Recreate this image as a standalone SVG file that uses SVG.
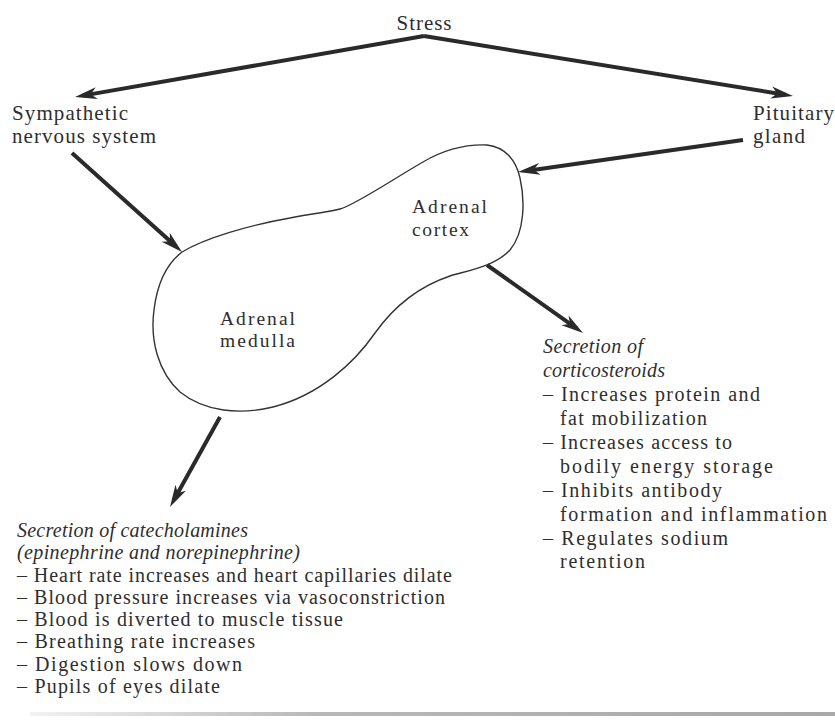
<svg xmlns="http://www.w3.org/2000/svg" width="835" height="722" viewBox="0 0 835 722">
<style>
text{font-family:"Liberation Serif","DejaVu Serif",serif;fill:#2e2e2e;font-size:20px}
.lab{font-size:21px}
.blob-lab{font-size:19.5px}
.it{font-style:italic}
.arrow{stroke:#2a2a2a;stroke-width:4;fill:none;marker-end:url(#ah)}
.blob{fill:#fff;stroke:#333;stroke-width:1.4}
</style>
<defs>
<marker id="ah" markerUnits="userSpaceOnUse" viewBox="0 0 22 14" markerWidth="22" markerHeight="14" refX="14" refY="7" orient="auto">
<path d="M0,1 L22,7 L0,13 L6,7 Z" fill="#2a2a2a"/>
</marker>
<linearGradient id="band" x1="0" y1="0" x2="1" y2="0">
<stop offset="0" stop-color="#f2f2f2"/>
<stop offset="0.35" stop-color="#b8b8b8"/>
<stop offset="1" stop-color="#a8a8a8"/>
</linearGradient>
</defs>
<rect width="835" height="722" fill="#fff"/>
<rect x="30" y="712" width="805" height="4" fill="url(#band)"/>

<g id="stress"><text x="424" y="30" text-anchor="middle" class="lab" textLength="55">Stress</text></g>
<g id="sympathetic">
<text x="12" y="120" class="lab" textLength="116">Sympathetic</text>
<text x="12" y="143" class="lab" textLength="144">nervous system</text>
</g>
<g id="pituitary">
<text x="753" y="120" class="lab" textLength="81">Pituitary</text>
<text x="753" y="143" class="lab" textLength="52">gland</text>
</g>
<g id="adrenal">
<path class="blob" d="M182,252 C205,238 250,225 290,218 C315,213 330,212 340,209 C355,205 395,178 423,162 C440,152 462,144 487,145 C505,147 516,160 520,178 C525,200 525,232 510,250 C495,266 470,270 450,276 C420,286 395,305 375,333 C355,362 320,395 273,407 C240,415 205,412 180,392 C158,372 150,340 154,310 C157,285 165,265 182,252 Z"/>
<text x="412" y="213" class="blob-lab" textLength="75">Adrenal</text>
<text x="412" y="236" class="blob-lab" textLength="57">cortex</text>
<text x="220" y="325" class="blob-lab" textLength="75">Adrenal</text>
<text x="220" y="347" class="blob-lab" textLength="75">medulla</text>
</g>
<g id="catecholamines">
<text x="17" y="537" class="it" textLength="231">Secretion of catecholamines</text>
<text x="17" y="559" class="it" textLength="283">(epinephrine and norepinephrine)</text>
<text x="17" y="582" textLength="435">– Heart rate increases and heart capillaries dilate</text>
<text x="17" y="604" textLength="428">– Blood pressure increases via vasoconstriction</text>
<text x="17" y="626" textLength="326">– Blood is diverted to muscle tissue</text>
<text x="17" y="648" textLength="238">– Breathing rate increases</text>
<text x="17" y="671" textLength="225">– Digestion slows down</text>
<text x="17" y="693" textLength="203">– Pupils of eyes dilate</text>
</g>
<g id="corticosteroids">
<text x="543" y="353" class="it" textLength="100">Secretion of</text>
<text x="543" y="377" class="it" textLength="122">corticosteroids</text>
<text x="543" y="401" textLength="217">– Increases protein and</text>
<text x="560" y="425" textLength="147">fat mobilization</text>
<text x="543" y="449" textLength="189">– Increases access to</text>
<text x="560" y="473" textLength="213">bodily energy storage</text>
<text x="543" y="497" textLength="179">– Inhibits antibody</text>
<text x="560" y="521" textLength="267">formation and inflammation</text>
<text x="543" y="545" textLength="185">– Regulates sodium</text>
<text x="560" y="568" textLength="85">retention</text>
</g>
<g id="connectors">
<path class="arrow" d="M424,36 L82.9,95.6"/>
<path class="arrow" d="M424,36 L785.1,94.7"/>
<path class="arrow" d="M72,153 L176.1,246.6"/>
<path class="arrow" d="M743,140 L525.9,170.9"/>
<path class="arrow" d="M487,265 L576.5,328.4"/>
<path class="arrow" d="M220,417 L173.9,500"/>
</g>
</svg>
